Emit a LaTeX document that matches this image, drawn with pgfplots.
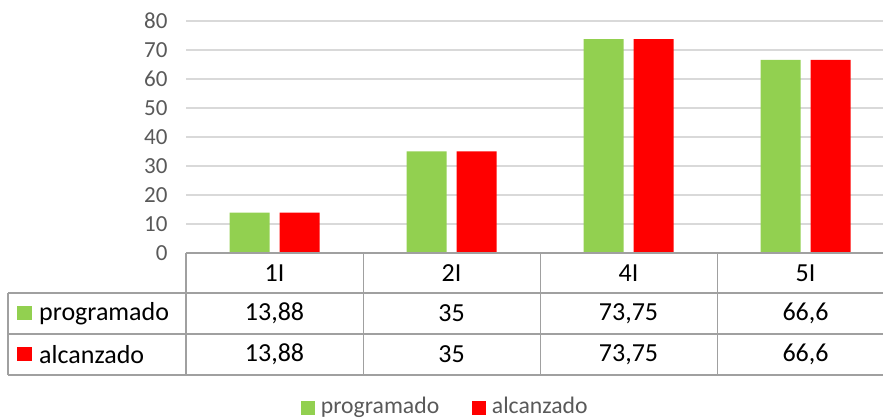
\documentclass[border=0pt]{standalone}
\usepackage{fontspec}
\setmainfont{Carlito}
\usepackage{pgfplots}
\pgfplotsset{compat=1.18}
\definecolor{prog}{HTML}{92D050}
\definecolor{alc}{HTML}{FF0000}
\definecolor{gridc}{HTML}{D9D9D9}
\definecolor{tabc}{HTML}{A0A0A0}
\definecolor{txtgray}{HTML}{595959}

\begin{document}
\begin{tikzpicture}[x=1pt,y=1pt]
\clip (0,0) rectangle (883,420);
\begin{axis}[
    at={(186pt,167pt)}, anchor=south west,
    scale only axis, width=708pt, height=232pt,
    ymin=0, ymax=80, ytick={0,10,...,80},
    xmin=-0.5, xmax=3.5, xtick=\empty,
    ybar=10pt, bar width=40pt,
    axis line style={draw=none},
    ymajorgrids, grid style={gridc, line width=1.5pt},
    major tick length=0pt,
    yticklabel style={font=\fontsize{23}{23}\selectfont, text=txtgray, xshift=-15pt},
    /pgf/number format/assume math mode=true,
    clip=false,
]
\addplot[fill=prog, draw=none] coordinates {(0,13.88) (1,35) (2,73.75) (3,66.6)};
\addplot[fill=alc, draw=none] coordinates {(0,13.88) (1,35) (2,73.75) (3,66.6)};
\end{axis}

% data table below the plot
\begin{scope}[tabc, line width=1.2pt]
\draw (186,167) -- (893,167);
\draw (8,127) -- (893,127);
\draw (8,86) -- (893,86);
\draw (8,45) -- (893,45);
\draw (8,127) -- (8,45);
\foreach \x in {186,363.1,540.2,717.3} \draw (\x,167) -- (\x,45);
\end{scope}

\begin{scope}[every node/.style={font=\fontsize{26}{26}\selectfont, text=black, inner sep=0pt}]
\node at (274.5,147) {1I};
\node at (451.5,147) {2I};
\node at (628.5,147) {4I};
\node at (805.5,147) {5I};
\node at (274.5,106.5) {13,88};
\node at (451.5,106.5) {35};
\node at (628.5,106.5) {73,75};
\node at (805.5,106.5) {66,6};
\node at (274.5,65.5) {13,88};
\node at (451.5,65.5) {35};
\node at (628.5,65.5) {73,75};
\node at (805.5,65.5) {66,6};
\fill[prog] (17.3,99.5) rectangle (31.7,114);
\node[anchor=west] at (39,106.5) {programado};
\fill[alc] (17.3,58.5) rectangle (31.7,73);
\node[anchor=west] at (39,65.5) {alcanzado};
\end{scope}

% legend
\fill[prog] (301,5) rectangle (315,19);
\node[anchor=base west, inner sep=0pt, text=txtgray, font=\fontsize{23.7}{24}\selectfont] at (320.7,6) {programado};
\fill[alc] (472,5) rectangle (486,19);
\node[anchor=base west, inner sep=0pt, text=txtgray, font=\fontsize{23.7}{24}\selectfont] at (491.7,6) {alcanzado};
\end{tikzpicture}
\end{document}
